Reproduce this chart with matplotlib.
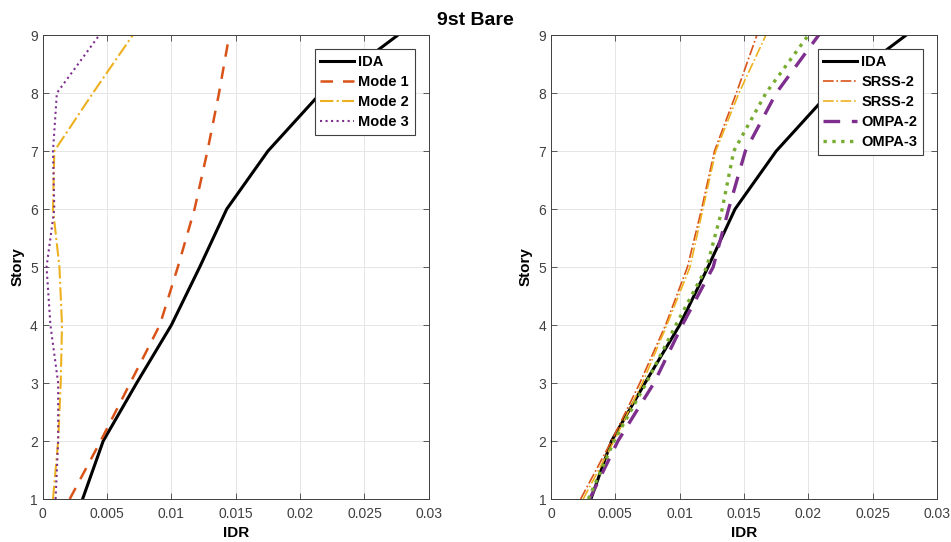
import numpy as np
import matplotlib
matplotlib.use('Agg')
import matplotlib.pyplot as plt

plt.rcParams['font.family'] = ['Liberation Sans', 'DejaVu Sans']

# Story levels and inter-story drift ratios
story = [1, 2, 3, 4, 5, 6, 7, 8, 9]
ida = [0.0031, 0.0047, 0.0073, 0.0100, 0.0122, 0.0143, 0.0175, 0.0216, 0.0276]
mode1 = [0.0021, 0.0045, 0.0068, 0.0091, 0.0105, 0.0118, 0.0128, 0.0137, 0.0145]
mode2 = [0.0008, 0.0012, 0.0014, 0.0015, 0.0013, 0.0008, 0.0009, 0.0039, 0.0070]
mode3 = [0.0010, 0.0012, 0.0012, 0.0006, 0.0003, 0.0009, 0.0008, 0.0011, 0.0044]
srss_a = [0.0023, 0.0047, 0.0069, 0.0089, 0.0106, 0.0117, 0.0127, 0.0144, 0.0160]
srss_b = [0.0025, 0.0049, 0.0071, 0.0090, 0.0108, 0.0118, 0.0128, 0.0146, 0.0167]
ompa2 = [0.0030, 0.0052, 0.0080, 0.0102, 0.0126, 0.0138, 0.0151, 0.0175, 0.0208]
ompa3 = [0.0029, 0.0049, 0.0074, 0.0097, 0.0121, 0.0133, 0.0142, 0.0167, 0.0200]

xticks = [0, 0.005, 0.01, 0.015, 0.02, 0.025, 0.03]
xticklabels = ['0', '0.005', '0.01', '0.015', '0.02', '0.025', '0.03']

c_red = '#D95319'
c_yel = '#EDB120'
c_pur = '#7E2F8E'
c_grn = '#77AC30'

fig = plt.figure(figsize=(9.51, 5.42), dpi=100)
ax1 = fig.add_axes([0.0449, 0.0793, 0.406, 0.856])
ax2 = fig.add_axes([0.5794, 0.0793, 0.406, 0.856])


def style_axis(ax):
    ax.set_xlim(0, 0.03)
    ax.set_ylim(1, 9)
    ax.set_xticks(xticks)
    ax.set_xticklabels(xticklabels)
    ax.set_yticks(story)
    ax.tick_params(direction='in', top=True, right=True, labelsize=10,
                   colors='#404040', length=4, width=0.6)
    ax.tick_params(axis='x', pad=6)
    ax.grid(True, color='#e6e6e6', linewidth=0.7)
    for s in ax.spines.values():
        s.set_color('#404040')
        s.set_linewidth(0.7)
    ax.set_xlabel('IDR', fontsize=11, fontweight='bold', labelpad=3)
    ax.set_ylabel('Story', fontsize=11, fontweight='bold', labelpad=4)


def add_legend(ax, anchor):
    leg = ax.legend(loc='upper right', bbox_to_anchor=anchor, borderaxespad=0,
                    fancybox=False, framealpha=1, edgecolor='#404040',
                    prop={'weight': 'bold', 'size': 10.5},
                    handlelength=2.3, handletextpad=0.3, borderpad=0.4,
                    labelspacing=0.42)
    leg.get_frame().set_linewidth(0.8)


# Left: modal contributions
ax1.plot(ida, story, color='black', linewidth=2.2, label='IDA')
ax1.plot(mode1, story, color=c_red, linewidth=1.8, dashes=(5, 4), label='Mode 1')
ax1.plot(mode2, story, color=c_yel, linewidth=1.5, linestyle='-.', label='Mode 2')
ax1.plot(mode3, story, color=c_pur, linewidth=1.5, linestyle=':', label='Mode 3')
style_axis(ax1)
add_legend(ax1, (0.964, 0.97))

# Right: combination rules
ax2.plot(ida, story, color='black', linewidth=2.2, label='IDA')
ax2.plot(srss_a, story, color=c_red, linewidth=1.2, linestyle='-.', label='SRSS-2')
ax2.plot(srss_b, story, color=c_yel, linewidth=1.2, linestyle='-.', label='SRSS-2')
ax2.plot(ompa2, story, color=c_pur, linewidth=2.4, dashes=(5, 3.5), label='OMPA-2')
ax2.plot(ompa3, story, color=c_grn, linewidth=2.4, linestyle=':', label='OMPA-3')
style_axis(ax2)
add_legend(ax2, (0.9637, 0.97))

fig.text(0.5, 0.962, '9st Bare', ha='center', va='center', fontsize=14, fontweight='bold')

fig.savefig('out.png', dpi=100)
